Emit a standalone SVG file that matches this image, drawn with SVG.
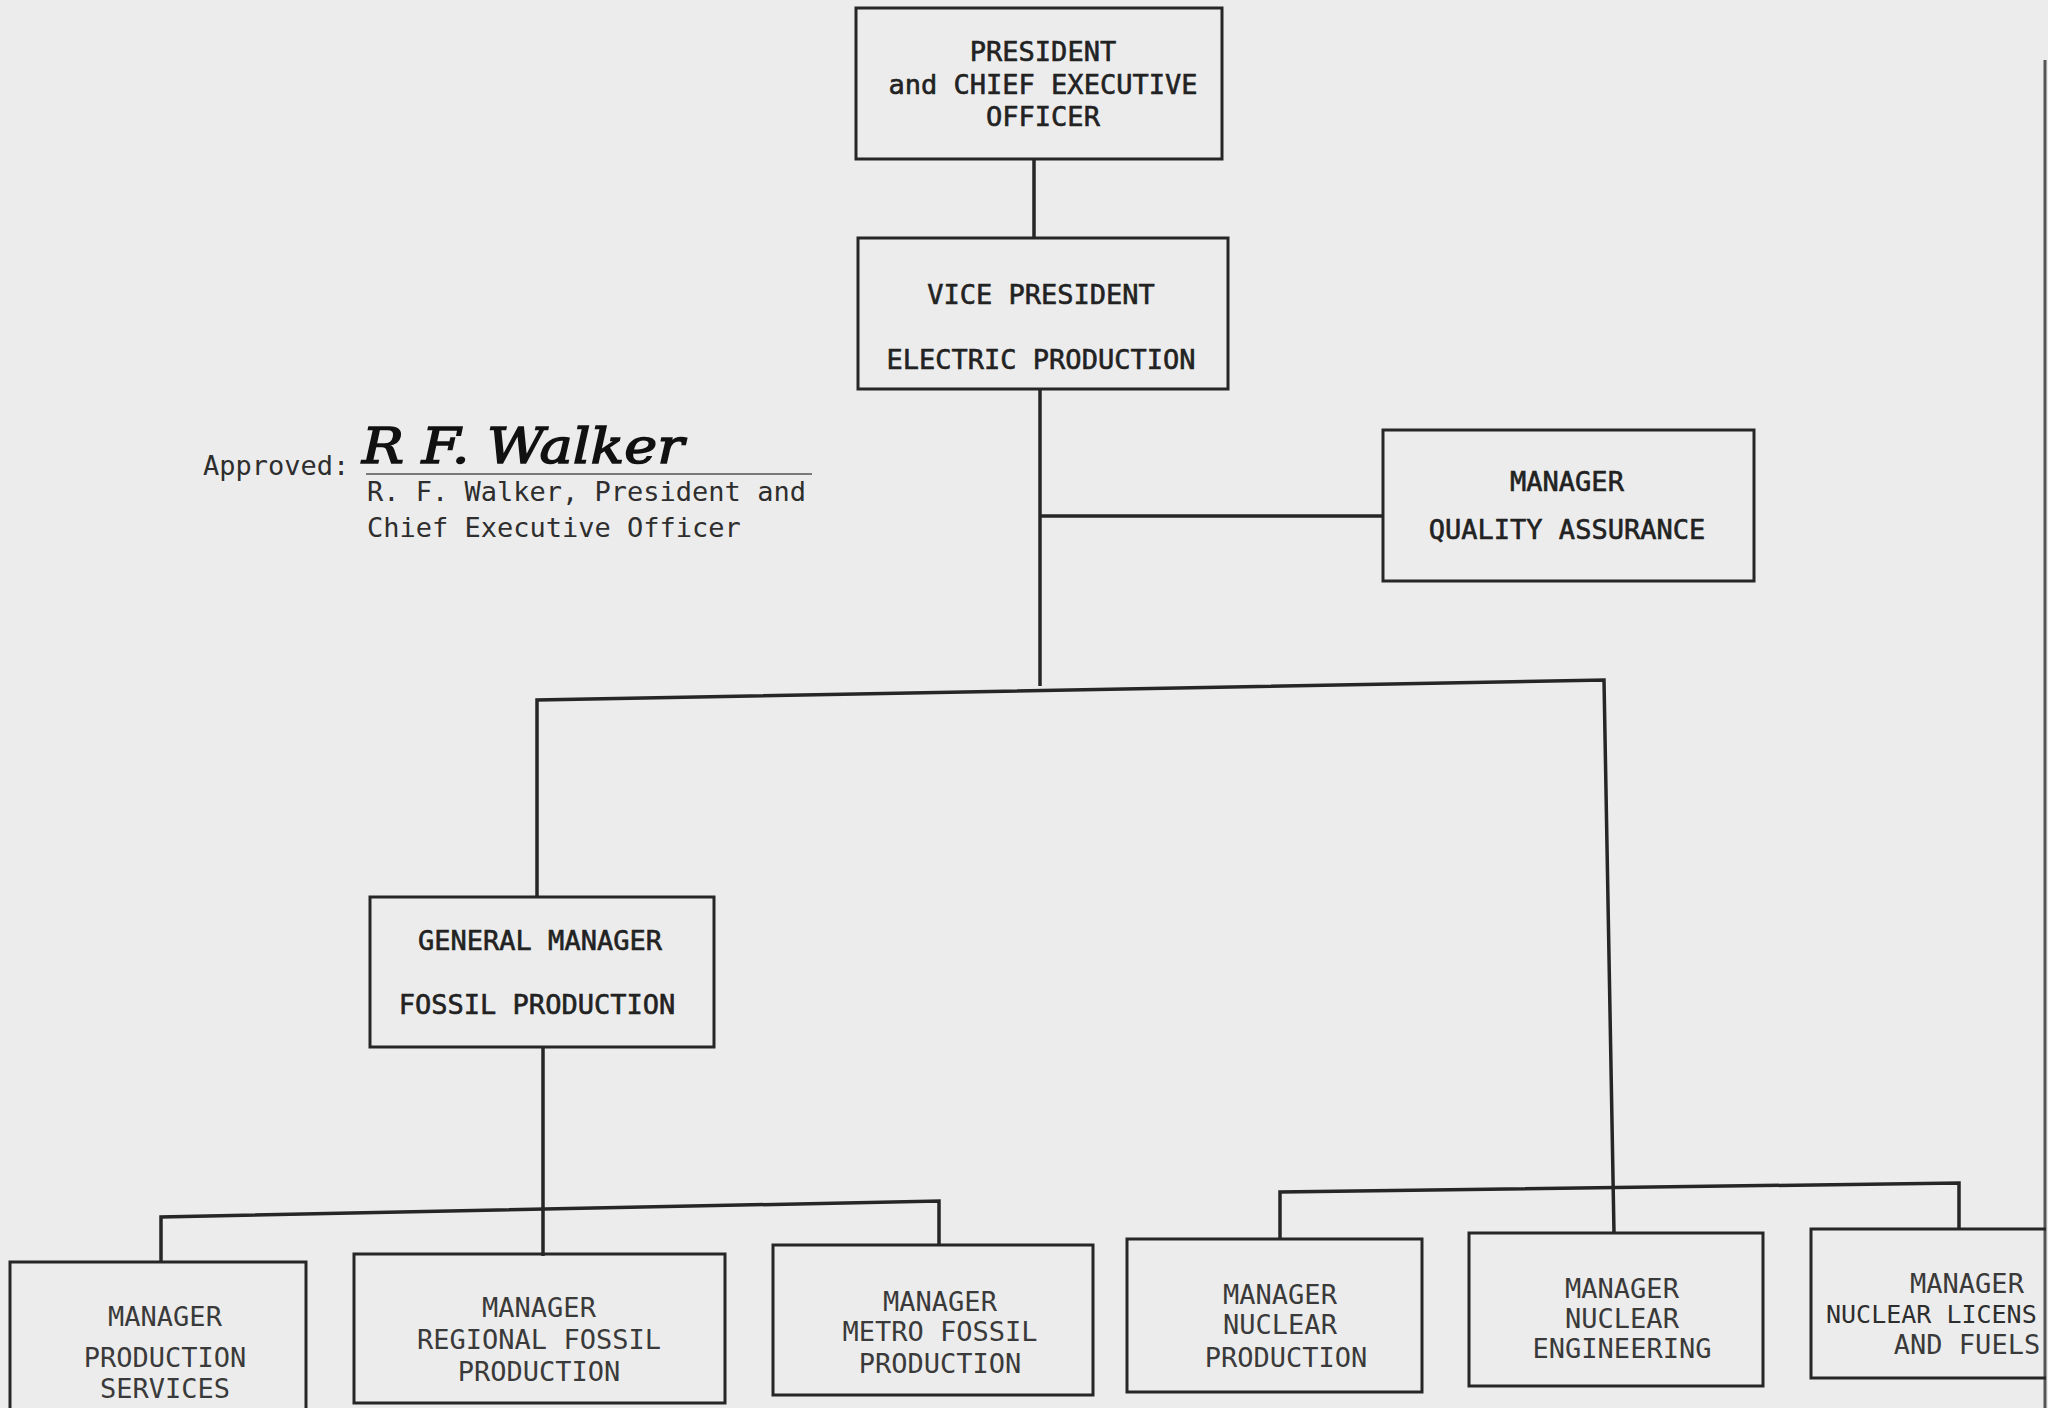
<svg xmlns="http://www.w3.org/2000/svg" width="2048" height="1408" viewBox="0 0 2048 1408">
<style>
.box{fill:none;stroke:#262626;stroke-width:3}
.ln{fill:none;stroke:#262626;stroke-width:3.5}
.t{font-family:"DejaVu Sans Mono","Liberation Mono",monospace;font-size:27px;fill:#222;stroke:#222;stroke-width:0.6;text-anchor:middle}
.tb{font-family:"DejaVu Sans Mono","Liberation Mono",monospace;font-size:27px;fill:#3a3a3a;text-anchor:middle}
.tl{font-family:"DejaVu Sans Mono","Liberation Mono",monospace;font-size:27px;fill:#2e2e2e}
.sig{font-family:"DejaVu Serif","Liberation Serif",serif;font-style:italic;font-size:48px;fill:#111;stroke:#111;stroke-width:1.5}
</style>
<rect width="2048" height="1408" fill="#ececec"/>
<line x1="2045" y1="60" x2="2045" y2="1408" stroke="#555" stroke-width="3"/>

<g id="connectors">
<path class="ln" d="M1034 159 V238"/>
<path class="ln" d="M1040 389 V686"/>
<path class="ln" d="M1040 516 H1383"/>
<path class="ln" d="M537 897 V700 L1604 680 L1614 1233"/>
<path class="ln" d="M543 1047 V1256"/>
<path class="ln" d="M161 1262 V1217 L939 1201 V1245"/>
<path class="ln" d="M1280 1239 V1192 L1959 1183 V1229"/>
</g>

<g id="president">
<rect class="box" x="856" y="8" width="366" height="151"/>
<text class="t" x="1043" y="61">PRESIDENT</text>
<text class="t" x="1043" y="94">and CHIEF EXECUTIVE</text>
<text class="t" x="1043" y="126">OFFICER</text>
</g>

<g id="vice-president">
<rect class="box" x="858" y="238" width="370" height="151"/>
<text class="t" x="1041" y="304">VICE PRESIDENT</text>
<text class="t" x="1041" y="369">ELECTRIC PRODUCTION</text>
</g>

<g id="quality-assurance">
<rect class="box" x="1383" y="430" width="371" height="151"/>
<text class="t" x="1567" y="491">MANAGER</text>
<text class="t" x="1567" y="539">QUALITY ASSURANCE</text>
</g>

<g id="fossil-gm">
<rect class="box" x="370" y="897" width="344" height="150"/>
<text class="t" x="540" y="950">GENERAL MANAGER</text>
<text class="t" x="537" y="1014">FOSSIL PRODUCTION</text>
</g>

<g id="production-services">
<path class="box" d="M10 1420 V1262 H306 V1420"/>
<text class="tb" x="165" y="1326">MANAGER</text>
<text class="tb" x="165" y="1367">PRODUCTION</text>
<text class="tb" x="165" y="1398">SERVICES</text>
</g>

<g id="regional-fossil">
<rect class="box" x="354" y="1254" width="371" height="149"/>
<text class="tb" x="539" y="1317">MANAGER</text>
<text class="tb" x="539" y="1349">REGIONAL FOSSIL</text>
<text class="tb" x="539" y="1381">PRODUCTION</text>
</g>

<g id="metro-fossil">
<rect class="box" x="773" y="1245" width="320" height="150"/>
<text class="tb" x="940" y="1311">MANAGER</text>
<text class="tb" x="940" y="1341">METRO FOSSIL</text>
<text class="tb" x="940" y="1373">PRODUCTION</text>
</g>

<g id="nuclear-production">
<rect class="box" x="1127" y="1239" width="295" height="153"/>
<text class="tb" x="1280" y="1304">MANAGER</text>
<text class="tb" x="1280" y="1334">NUCLEAR</text>
<text class="tb" x="1286" y="1367">PRODUCTION</text>
</g>

<g id="nuclear-engineering">
<rect class="box" x="1469" y="1233" width="294" height="153"/>
<text class="tb" x="1622" y="1298">MANAGER</text>
<text class="tb" x="1622" y="1328">NUCLEAR</text>
<text class="tb" x="1622" y="1358">ENGINEERING</text>
</g>

<g id="nuclear-licensing">
<path class="box" d="M2046 1229 H1811 V1378 H2046"/>
<text class="tb" x="1967" y="1293">MANAGER</text>
<text class="tl" x="1826" y="1323" fill="#3a3a3a" style="font-size:25px">NUCLEAR LICENS</text>
<text class="tb" x="1967" y="1354">AND FUELS</text>
</g>

<g id="approval">
<text class="tl" x="203" y="475">Approved:</text>
<text class="sig" x="362" y="463" textLength="322" lengthAdjust="spacingAndGlyphs">R F. Walker</text>
<line x1="366" y1="474" x2="812" y2="474" stroke="#555" stroke-width="1.5"/>
<text class="tl" x="367" y="501">R. F. Walker, President and</text>
<text class="tl" x="367" y="537">Chief Executive Officer</text>
</g>
</svg>
